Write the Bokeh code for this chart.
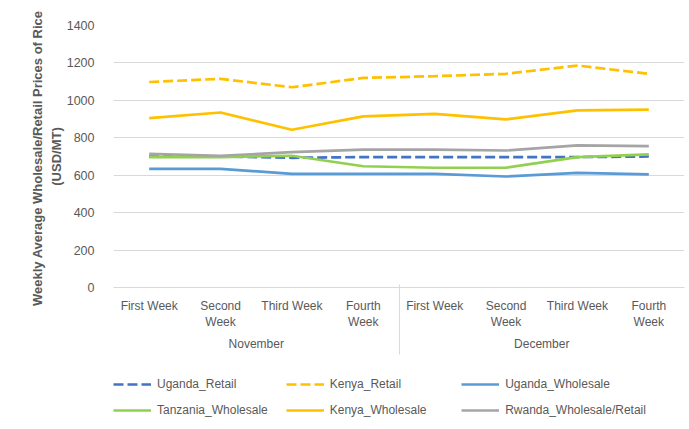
from bokeh.plotting import figure
from bokeh.layouts import column
from bokeh.models import (FactorRange, Legend, LegendItem, FixedTicker,
                          CategoricalAxis, Range1d)
from bokeh.core.properties import value
from bokeh.embed import file_html
from bokeh.resources import INLINE

months = ["November", "December"]
weeks = ["First Week", "Second\nWeek", "Third Week", "Fourth\nWeek"]
y_ticks = [0, 200, 400, 600, 800, 1000, 1200, 1400]

uganda_retail = [700, 700, 693, 697, 697, 697, 697, 700]
kenya_retail = [1098, 1115, 1070, 1120, 1129, 1142, 1186, 1142]
uganda_wholesale = [634, 634, 607, 607, 607, 593, 613, 604]
tanzania_wholesale = [697, 697, 704, 648, 640, 640, 697, 711]
kenya_wholesale = [905, 935, 843, 914, 928, 898, 946, 951]
rwanda_wholesale_retail = [714, 704, 723, 737, 737, 732, 759, 755]

NB = "\u00a0"
series = [
    ("Uganda_Retail", uganda_retail, "#4472C4", "dashed", 0),
    ("Kenya_Retail", kenya_retail, "#FFC000", "dashed", 0),
    ("Uganda_Wholesale", uganda_wholesale, "#5B9BD5", "solid", 0),
    ("Tanzania_Wholesale", tanzania_wholesale, "#92D050", "solid", 3),
    ("Kenya_Wholesale", kenya_wholesale, "#FFC000", "solid", 8),
    ("Rwanda_Wholesale/Retail", rwanda_wholesale_retail, "#A5A5A5", "solid", 0),
]

factors = [(m, w) for m in months for w in weeks]
x_range = FactorRange(*factors, factor_padding=0, group_padding=0, range_padding=0)

FONT = "Liberation Sans"
GRAY = "#595959"

p = figure(x_range=x_range, y_range=(0, 1400), width=687, height=372,
           output_backend="svg", toolbar_location=None,
           min_border_left=113, min_border_right=3, min_border_top=25,
           min_border_bottom=85)
p.outline_line_color = None
p.background_fill_color = "white"

for name, vals, color, dash, pad in series:
    p.line(x=factors, y=vals, line_color=color, line_width=2.7,
           line_dash=("10 4" if dash == "dashed" else "solid"))

p.yaxis.ticker = FixedTicker(ticks=y_ticks)
p.yaxis.axis_line_color = None
p.yaxis.major_tick_line_color = None
p.yaxis.minor_tick_line_color = None
p.yaxis.major_label_text_font = FONT
p.yaxis.major_label_text_font_size = "12.5px"
p.yaxis.major_label_text_color = GRAY
p.yaxis.major_label_standoff = 13
p.yaxis.axis_label = "Weekly Average Wholesale/Retail  Prices of Rice\n(USD/MT)"
p.yaxis.axis_label_text_font = FONT
p.yaxis.axis_label_text_font_size = "13px"
p.yaxis.axis_label_text_font_style = "bold"
p.yaxis.axis_label_text_color = GRAY
p.yaxis.axis_label_text_line_height = 1.25
p.yaxis.axis_label_standoff = 0

p.ygrid.grid_line_color = "#D9D9D9"
p.xgrid.grid_line_color = None

xa = p.xaxis[0]
xa.axis_line_color = "#D9D9D9"
xa.major_tick_line_color = None
xa.minor_tick_line_color = None
xa.major_label_text_font = FONT
xa.major_label_text_font_size = "12px"
xa.major_label_text_color = GRAY
xa.major_label_text_line_height = 1.2
xa.major_label_standoff = 5
xa.group_text_font = FONT
xa.group_text_font_size = "12px"
xa.group_text_color = GRAY
xa.group_text_font_style = "normal"
xa.separator_line_color = None

# box lines of the category axis: left edge, month divider, right edge
edges = ["edge_left", "edge_mid", "edge_right"]
p.extra_x_ranges = {"box": FactorRange(*edges, factor_padding=0, range_padding=-0.98,
                                       range_padding_units="absolute")}
box = CategoricalAxis(x_range_name="box", major_tick_in=70, major_tick_out=0,
                      axis_line_color=None, major_tick_line_color="#D9D9D9",
                      major_tick_line_width=1, minor_tick_line_color=None,
                      major_label_text_font_size="1px", major_label_text_alpha=0,
                      major_label_standoff=0)
p.add_layout(box, "below")

# legend strip below the chart (series drawn outside its visible range)
lg = figure(width=687, height=55, output_backend="svg", toolbar_location=None,
            x_range=FactorRange(*factors, factor_padding=0, group_padding=0,
                                range_padding=0),
            y_range=Range1d(-2, -1),
            x_axis_location=None, y_axis_location=None, min_border=0)
lg.outline_line_color = None
lg.xgrid.grid_line_color = None
lg.ygrid.grid_line_color = None
items = []
for name, vals, color, dash, pad in series:
    r = lg.line(x=factors, y=vals, line_color=color, line_width=2.7,
                line_dash=("10 4" if dash == "dashed" else "solid"))
    items.append(LegendItem(label=value(name + NB * pad), renderers=[r]))

legend = Legend(items=items, orientation="horizontal", nrows=2,
                glyph_width=38, glyph_height=18, label_standoff=6,
                spacing=8, padding=0, margin=0,
                location=(0, 8),
                label_text_font=FONT, label_text_font_size="12px",
                label_text_color=GRAY, border_line_color=None,
                background_fill_alpha=0)
lg.add_layout(legend, "center")

layout = column(p, lg, spacing=0)
open("out.html", "w").write(file_html(layout, INLINE))
